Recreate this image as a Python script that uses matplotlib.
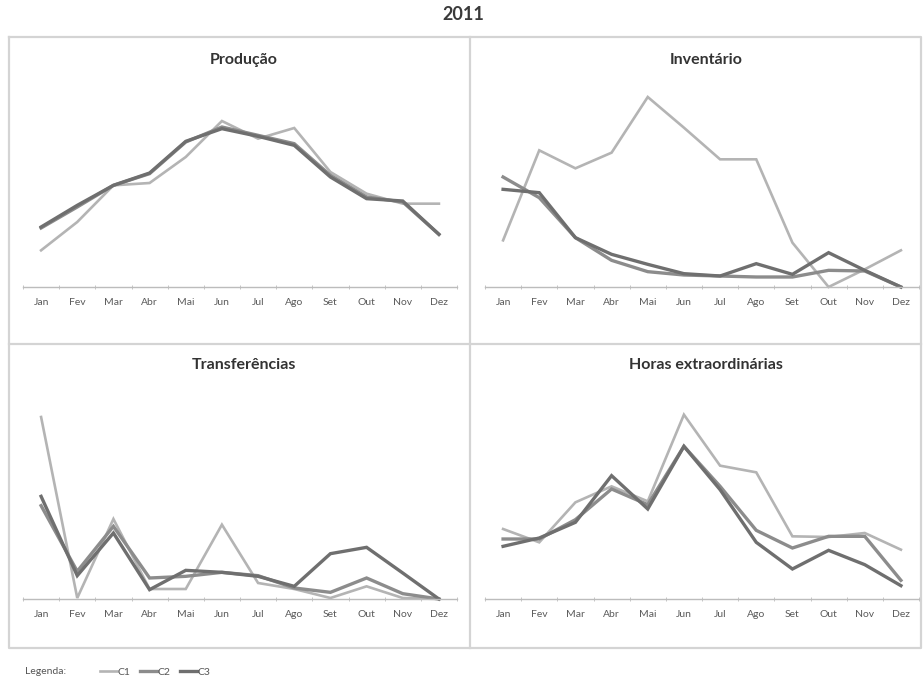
import matplotlib.pyplot as plt
import matplotlib as mpl

plt.rcParams['font.family'] = ['Lato', 'DejaVu Sans']

# months (x categories)
meses = ["Jan", "Fev", "Mar", "Abr", "Mai", "Jun", "Jul", "Ago", "Set", "Out", "Nov", "Dez"]

# values (arbitrary units, no y axis in original)
producao_c1 = [110, 195, 305, 312, 390, 498, 445, 477, 345, 280, 250, 250]
producao_c2 = [177, 240, 305, 340, 435, 480, 455, 430, 335, 270, 255, 158]
producao_c3 = [180, 245, 305, 342, 437, 475, 452, 425, 330, 265, 258, 158]

inventario_c1 = [140, 410, 356, 403, 570, 478, 383, 383, 133, 0, 53, 110]
inventario_c2 = [330, 268, 148, 80, 46, 36, 33, 30, 30, 50, 48, 0]
inventario_c3 = [293, 283, 148, 98, 68, 40, 33, 70, 38, 103, 50, 0]

transf_c1 = [546, 3, 240, 30, 30, 223, 48, 30, 3, 38, 3, 0]
transf_c2 = [280, 83, 218, 63, 68, 80, 70, 33, 20, 63, 16, 0]
transf_c3 = [308, 70, 198, 28, 86, 80, 68, 38, 136, 155, 78, 0]

horas_c1 = [210, 170, 290, 338, 293, 553, 400, 380, 188, 186, 198, 148]
horas_c2 = [180, 180, 238, 330, 283, 458, 338, 206, 153, 188, 188, 56]
horas_c3 = [158, 183, 230, 370, 270, 458, 328, 170, 90, 146, 103, 40]

series = ["C1", "C2", "C3"]
cores = ["#b4b4b4", "#8c8c8c", "#6f6f6f"]
larguras = [1.9, 2.4, 2.4]

W, H = 924, 679
fig = plt.figure(figsize=(W / 100, H / 100), dpi=100)
fig.patch.set_facecolor("white")

# background axes in pixel coords for borders, title and legend
bg = fig.add_axes([0, 0, 1, 1])
bg.set_xlim(0, W)
bg.set_ylim(H, 0)
bg.axis("off")
borda = "#d4d4d4"
bg.plot([9, 921, 921, 9, 9], [37, 37, 648, 648, 37], color=borda, lw=1.6)
bg.plot([470, 470], [37, 648], color=borda, lw=1.6)
bg.plot([9, 921], [344, 344], color=borda, lw=1.6)
bg.text(463, 15, "2011", ha="center", va="center", fontsize=13, fontweight="bold", color="#3a3a3a")


def px_axes(x0, x1, y_top, y_axis):
    return fig.add_axes([x0 / W, 1 - y_axis / H, (x1 - x0) / W, (y_axis - y_top) / H])


paineis = [
    ("Produção", [producao_c1, producao_c2, producao_c3], 23, 457, 80, 287, 60),
    ("Inventário", [inventario_c1, inventario_c2, inventario_c3], 485, 919, 80, 287, 60),
    ("Transferências", [transf_c1, transf_c2, transf_c3], 23, 457, 390, 599, 365),
    ("Horas extraordinárias", [horas_c1, horas_c2, horas_c3], 485, 919, 390, 599, 365),
]

linhas = []
for titulo, dados, x0, x1, yt, ya, ytit in paineis:
    ax = px_axes(x0, x1, yt, ya)
    ax.set_facecolor("none")
    linhas = []
    for vals, nome, c, lw in zip(dados, series, cores, larguras):
        l, = ax.plot(range(len(meses)), vals, color=c, lw=lw, label=nome,
                     solid_joinstyle="miter", clip_on=False)
        linhas.append(l)
    ax.set_xlim(-0.5, 11.5)
    ax.set_ylim(0, (ya - yt) * 3)
    for s in ["top", "right", "left"]:
        ax.spines[s].set_visible(False)
    ax.spines["bottom"].set_color("#bcbcbc")
    ax.spines["bottom"].set_linewidth(1.0)
    ax.set_yticks([])
    ax.set_xticks(range(len(meses)))
    ax.set_xticklabels(meses, fontsize=7.5, color="#5a5a5a")
    ax.tick_params(axis="x", which="major", length=0, pad=8)
    ax.set_xticks([i - 0.5 for i in range(len(meses) + 1)], minor=True)
    ax.tick_params(axis="x", which="minor", length=3, direction="inout", color="#bcbcbc")
    bg.text((x0 + x1) / 2 + 4, ytit, titulo, ha="center", va="center",
            fontsize=11.5, fontweight="bold", color="#333333")

# legend
bg.text(25, 672, "Legenda:", ha="left", va="center", fontsize=7.5, color="#555555")
leg = fig.legend(linhas, series, loc="center left", bbox_to_anchor=(95 / W, 1 - 672 / H),
                 ncol=3, frameon=False, fontsize=7.5, handlelength=1.6, handletextpad=0.1,
                 columnspacing=0.9, borderpad=0, labelcolor="#555555")

fig.savefig("out.png", dpi=100)
